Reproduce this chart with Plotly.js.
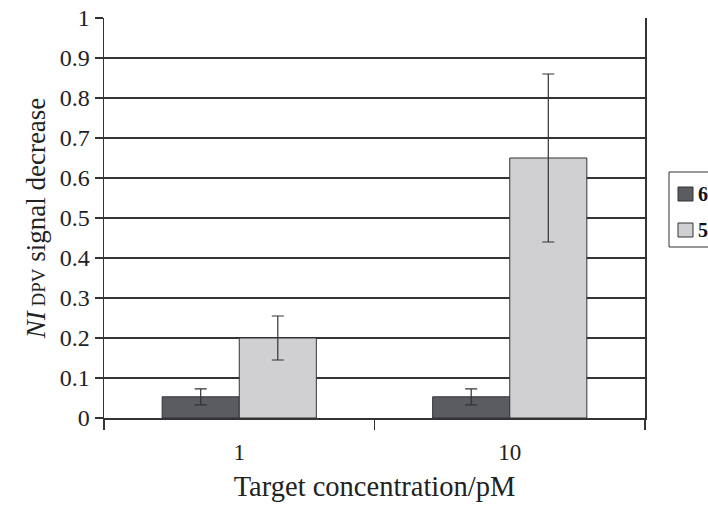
<!DOCTYPE html>
<html>
<head>
<meta charset="utf-8">
<script src="https://cdn.plot.ly/plotly-3.0.1.min.js"></script>
<style>html,body{margin:0;padding:0;background:#fff;}#chart{width:708px;height:506px;}</style>
</head>
<body>
<div id="chart"></div>
<script>
var categories = ["1", "10"];
var seriesNames = ["6", "5"];
var seriesColors = ["#5b5c61", "#d0d0d2"];
var darkValues = [0.053, 0.053];
var darkErrors = [0.02, 0.02];
var lightValues = [0.2, 0.65];
var lightErrors = [0.055, 0.21];
var yTickVals = [0, 0.1, 0.2, 0.3, 0.4, 0.5, 0.6, 0.7, 0.8, 0.9, 1];
var yTickText = ["0", "0.1", "0.2", "0.3", "0.4", "0.5", "0.6", "0.7", "0.8", "0.9", "1"];

var serif = "Liberation Serif";
var ink = "#333336";

var traces = [
  {
    type: "bar", x: categories, y: darkValues, name: seriesNames[0],
    marker: {color: seriesColors[0], line: {color: ink, width: 1}},
    error_y: {type: "data", array: darkErrors, visible: true, color: ink, thickness: 1.2, width: 6}
  },
  {
    type: "bar", x: categories, y: lightValues, name: seriesNames[1],
    marker: {color: seriesColors[1], line: {color: ink, width: 1}},
    error_y: {type: "data", array: lightErrors, visible: true, color: ink, thickness: 1.2, width: 6}
  }
];

// legend drawn in paper coordinates (plot area spans x 104..645 px, y 18..418 px)
function px2x(p) { return (p - 104) / 541; }
function py2y(p) { return (418 - p) / 400; }
var shapes = [
  {type: "rect", xref: "paper", yref: "paper", x0: px2x(669), x1: px2x(730), y0: py2y(247), y1: py2y(172),
   line: {color: ink, width: 1}, fillcolor: "rgba(255,255,255,0)", layer: "above"}
];
var annotations = [];
var itemTops = [187, 223];
for (var i = 0; i < seriesNames.length; i++) {
  shapes.push({type: "rect", xref: "paper", yref: "paper",
    x0: px2x(678), x1: px2x(693), y0: py2y(itemTops[i] + 14), y1: py2y(itemTops[i]),
    line: {color: ink, width: 1}, fillcolor: seriesColors[i], layer: "above"});
  annotations.push({xref: "paper", yref: "paper", x: px2x(696), y: py2y(itemTops[i] + 7),
    xanchor: "left", yanchor: "middle", showarrow: false,
    text: "<b>" + seriesNames[i] + "</b>", font: {family: serif, size: 20, color: "#111"}});
}

var layout = {
  width: 708, height: 506,
  margin: {l: 104, r: 63, t: 18, b: 88, autoexpand: false},
  paper_bgcolor: "#fff", plot_bgcolor: "#fff",
  barmode: "group", bargap: 0.43, bargroupgap: 0,
  font: {family: serif, color: "#222", size: 22},
  showlegend: false,
  shapes: shapes,
  annotations: annotations,
  xaxis: {
    type: "category",
    showline: true, linecolor: ink, linewidth: 1.5,
    ticks: "outside", tickson: "boundaries", ticklen: 10, tickcolor: ink, tickwidth: 1.5,
    ticklabelstandoff: 13,
    showgrid: false, zeroline: false,
    tickfont: {family: serif, size: 23, color: "#222"},
    title: {text: "Target concentration/pM", font: {family: serif, size: 28.5, color: "#222"}, standoff: 12}
  },
  yaxis: {
    range: [0, 1], tickvals: yTickVals, ticktext: yTickText,
    showline: true, linecolor: ink, linewidth: 1.5, mirror: true,
    ticks: "outside", ticklen: 8, tickcolor: ink, tickwidth: 1.5,
    showgrid: true, gridcolor: ink, gridwidth: 1.3, zeroline: false,
    tickfont: {family: serif, size: 24, color: "#222"},
    title: {text: "<i>NI</i><span style=\"font-size:19px\"> DPV</span> signal decrease", font: {family: serif, size: 27, color: "#222"}, standoff: 6}
  }
};

Plotly.newPlot("chart", traces, layout, {displayModeBar: false, staticPlot: true});
</script>
</body>
</html>
